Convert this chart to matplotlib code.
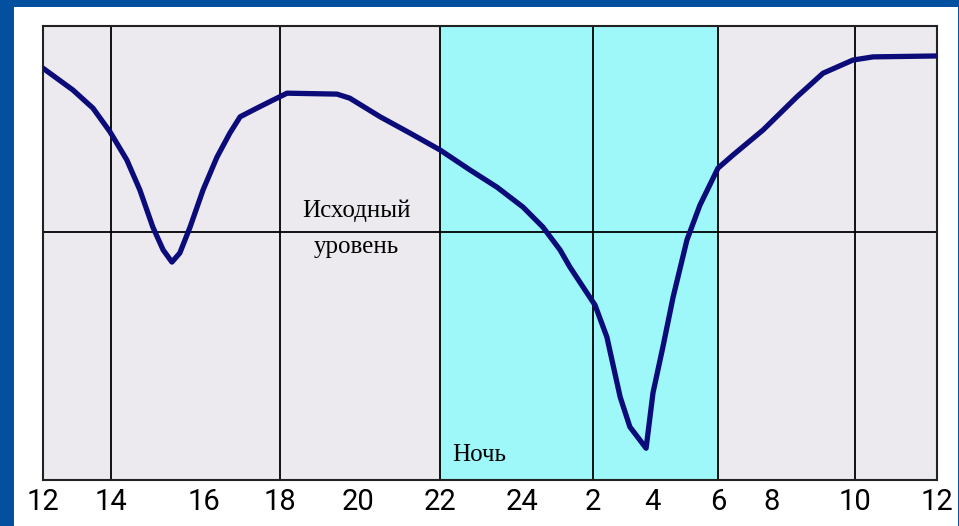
import matplotlib
matplotlib.use("Agg")
import matplotlib.pyplot as plt
import numpy as np
from matplotlib.patches import Rectangle

# hours since 12:00 and relative level (%)
hours = [0, 0.88, 1.47, 1.97, 2.34, 2.62, 2.90, 3.12, 3.31, 3.48, 3.70, 3.98,
         4.34, 4.68, 4.95, 5.39, 5.82, 6.18, 7.46, 7.79, 8.54, 9.27, 10.0,
         10.73, 11.39, 12.03, 12.59, 13.07, 13.35, 14.07, 14.47, 14.92, 15.25,
         15.80, 16.03, 16.33, 16.64, 17.06, 17.45, 18.0, 18.56, 19.67, 20.60,
         21.23, 21.95, 22.44, 24]
level = [90.7, 85.9, 81.9, 76.7, 70.5, 63.9, 55.7, 50.7, 48.0, 50.0, 55.7, 63.9,
         71.1, 76.4, 80.0, 81.9, 83.7, 85.2, 85.0, 84.1, 80.0, 76.4, 72.7,
         68.3, 64.5, 60.1, 55.7, 50.7, 46.9, 38.5, 31.5, 18.3, 11.7,
         7.0, 19.2, 29.3, 40.3, 52.9, 60.5, 68.7, 71.6, 77.1, 84.4,
         89.6, 92.5, 93.2, 93.4]
baseline = 54.6
night = (10, 18)          # 22:00 .. 6:00
grid_hours = [2, 6, 10, 14, 18, 22]
tick_hours = list(range(0, 25, 2))
tick_labels = ["12", "14", "16", "18", "20", "22", "24", "2", "4", "6", "8", "10", "12"]

# the original chart is hand-drawn with uneven hour spacing
scale_h = np.array(tick_hours, dtype=float)
scale_px = np.array([43, 111, 204, 280, 358, 440, 522, 593, 652, 718, 772, 855, 937], dtype=float)

def fwd(h):
    return np.interp(h, scale_h, scale_px)

def inv(p):
    return np.interp(p, scale_px, scale_h)

W, H = 959, 526
fig = plt.figure(figsize=(W / 100, H / 100), dpi=100, facecolor="#0450A0")
fig.patches.append(Rectangle((14 / W, 0), (958 - 14) / W, (H - 7) / H,
                             transform=fig.transFigure, facecolor="white",
                             edgecolor="none", zorder=-1))

ax = fig.add_axes([43 / W, (H - 480) / H, (937 - 43) / W, (480 - 26) / H])
ax.set_zorder(2)
ax.set_facecolor("#ECEAEE")
ax.set_xscale("function", functions=(fwd, inv))
ax.set_xlim(0, 24)
ax.set_ylim(0, 100)

ax.axvspan(night[0], night[1], color="#9EF7F8", zorder=0, lw=0)
for g in grid_hours:
    ax.axvline(g, color="black", lw=1.3, zorder=1)
ax.axhline(baseline, color="black", lw=1.3, zorder=1)

ax.plot(hours, level, color="#0B0B7A", lw=3.8, solid_joinstyle="round",
        solid_capstyle="round", zorder=3)

serif = ["Liberation Serif", "DejaVu Serif"]
ax.text(7.95, baseline + 2.2, "Исходный", family=serif, fontsize=18,
        ha="center", va="bottom", zorder=2)
ax.text(7.95, baseline - 0.8, "уровень", family=serif, fontsize=18,
        ha="center", va="top", zorder=2)
ax.text(10.3, 3.0, "Ночь", family=serif, fontsize=18, ha="left",
        va="bottom", zorder=2)

ax.set_xticks(tick_hours)
ax.set_xticklabels(tick_labels, family=["Roboto", "DejaVu Sans"],
                   fontsize=21, color="black")
ax.set_yticks([])
ax.tick_params(axis="x", length=0, pad=6)
for s in ax.spines.values():
    s.set_linewidth(1.5)
    s.set_color("#222222")

fig.savefig("out.png", dpi=100, facecolor=fig.get_facecolor())
